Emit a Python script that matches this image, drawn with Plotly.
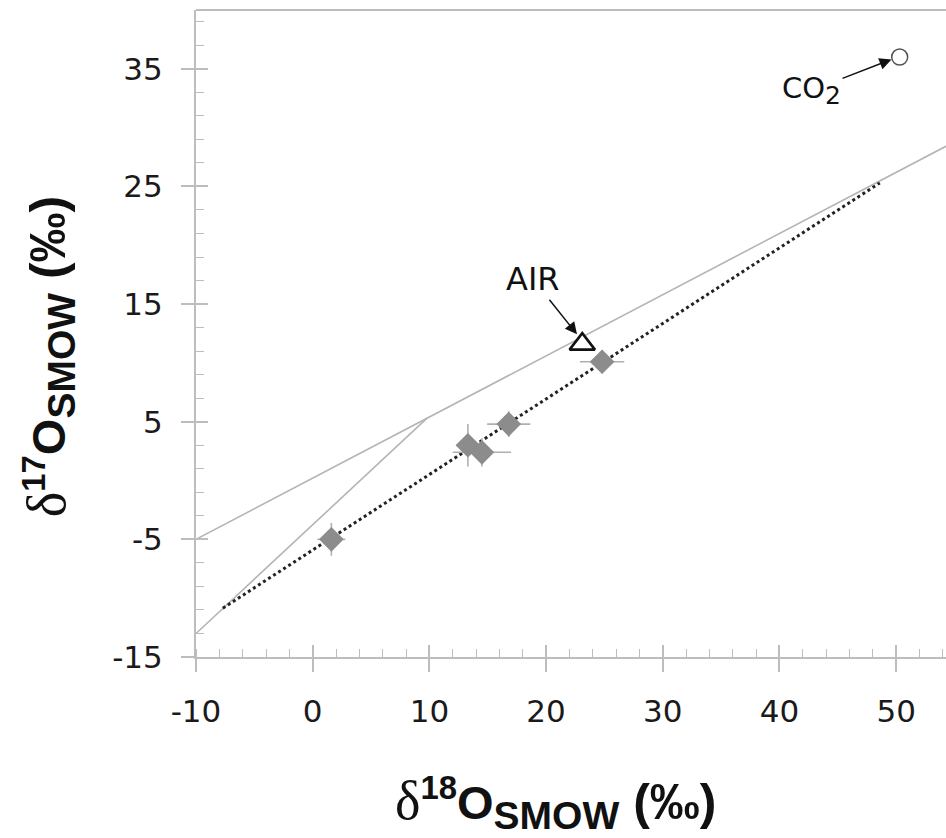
import plotly.graph_objects as go

# ---- data ----
sample_d18O = [1.6, 13.3, 14.5, 16.8, 24.8]
sample_d17O = [-5.0, 3.0, 2.4, 4.8, 10.1]
sample_err_x = [1.2, 1.0, 2.5, 1.85, 1.9]
sample_err_y = [1.4, 1.8, 1.2, 1.1, 1.0]

air_d18O = [23.1]
air_d17O = [11.6]
co2_d18O = [50.3]
co2_d17O = [36.0]

upper_line_x = [-10.0, 60.0]
upper_line_y = [-5.0, 31.4]
mix_line_x = [-10.0, 9.8]
mix_line_y = [-13.0, 5.3]
fit_line_x = [-7.7, 48.6]
fit_line_y = [-10.85, 25.3]

x_tickvals = [-10, 0, 10, 20, 30, 40, 50]
x_ticktext = ["-10", "0", "10", "20", "30", "40", "50"]
y_tickvals = [-15, -5, 5, 15, 25, 35]
y_ticktext = ["-15", "-5", "5", "15", "25", "35"]

x_range = [-10, 54.27]
y_range = [-15, 40]

fig = go.Figure()

LINE_GRAY = "#b4b4b4"
AXIS_GRAY = "#bdbdbd"

fig.add_trace(go.Scatter(x=upper_line_x, y=upper_line_y, mode="lines",
                         line=dict(color=LINE_GRAY, width=1.6), showlegend=False, hoverinfo="skip"))
fig.add_trace(go.Scatter(x=mix_line_x, y=mix_line_y, mode="lines",
                         line=dict(color=LINE_GRAY, width=1.6), showlegend=False, hoverinfo="skip"))
fig.add_trace(go.Scatter(x=fit_line_x, y=fit_line_y, mode="lines",
                         line=dict(color="#222222", width=3, dash="dot"), showlegend=False, hoverinfo="skip"))

fig.add_trace(go.Scatter(
    x=sample_d18O, y=sample_d17O, mode="markers",
    marker=dict(symbol="diamond", size=19, color="#8c8c8c", line=dict(width=0)),
    error_x=dict(type="data", array=sample_err_x, color="#b0b0b0", thickness=1.6, width=0),
    error_y=dict(type="data", array=sample_err_y, color="#b0b0b0", thickness=1.6, width=0),
    showlegend=False))

fig.add_trace(go.Scatter(x=air_d18O, y=air_d17O, mode="markers",
                         marker=dict(symbol="triangle-up", size=22, color="white",
                                     line=dict(color="#111111", width=2.6)),
                         showlegend=False))
fig.add_trace(go.Scatter(x=co2_d18O, y=co2_d17O, mode="markers",
                         marker=dict(symbol="circle", size=16, color="white",
                                     line=dict(color="#555555", width=1.5)),
                         showlegend=False))

# overlay axes carrying the inner half of the major ticks
fig.add_trace(go.Scatter(x=[], y=[], xaxis="x2", yaxis="y2", showlegend=False, hoverinfo="skip"))

TICK_FONT = dict(family="DejaVu Sans", size=31, color="#1a1a1a")

fig.update_layout(
    width=946, height=838,
    margin=dict(l=196, r=0, t=10, b=181),
    paper_bgcolor="white", plot_bgcolor="white",
    xaxis=dict(range=x_range, tickmode="array", tickvals=x_tickvals, ticktext=x_ticktext,
               ticks="outside", ticklen=13, tickwidth=1.5,
               tickcolor=AXIS_GRAY, showline=True, linecolor=AXIS_GRAY, linewidth=2,
               showgrid=False, zeroline=False, tickfont=TICK_FONT, ticklabelstandoff=13,
               minor=dict(dtick=2, tick0=-10, ticks="inside", ticklen=8, tickwidth=1.3,
                          tickcolor=AXIS_GRAY, showgrid=False)),
    yaxis=dict(range=y_range, tickmode="array", tickvals=y_tickvals, ticktext=y_ticktext,
               ticks="outside", ticklen=13, tickwidth=1.5,
               tickcolor=AXIS_GRAY, showline=True, linecolor=AXIS_GRAY, linewidth=2,
               showgrid=False, zeroline=False, tickfont=TICK_FONT, ticklabelstandoff=12,
               minor=dict(dtick=2, tick0=-15, ticks="inside", ticklen=8, tickwidth=1.3,
                          tickcolor=AXIS_GRAY, showgrid=False)),
    xaxis2=dict(overlaying="x", matches="x", anchor="y2", side="bottom", range=x_range,
                tickmode="array", tickvals=x_tickvals, ticks="inside", ticklen=12, tickwidth=1.5,
                tickcolor=AXIS_GRAY, showticklabels=False, showline=False,
                showgrid=False, zeroline=False),
    yaxis2=dict(overlaying="y", matches="y", anchor="x2", side="left", range=y_range,
                tickmode="array", tickvals=y_tickvals, ticks="inside", ticklen=12, tickwidth=1.5,
                tickcolor=AXIS_GRAY, showticklabels=False, showline=False,
                showgrid=False, zeroline=False),
    shapes=[dict(type="line", xref="paper", yref="paper", x0=0, x1=1, y0=1, y1=1,
                 line=dict(color=AXIS_GRAY, width=2))],
)

TITLE_FONT = dict(family="Liberation Sans", size=47, color="#111111")


def axis_title(iso):
    return ('<span style="font-family:Liberation Serif;font-size:54px">δ</span>'
            '<b><sup>' + iso + '</sup>O</b>'
            '<sub><b><span style="font-size:39px">SMOW</span></b></sub>'
            '<b><span style="font-size:50px"> (‰)</span></b>')


ann = [
    dict(xref="paper", yref="paper", x=0.479, y=-0.226, text=axis_title("18"), showarrow=False,
         font=TITLE_FONT, xanchor="center", yanchor="middle"),
    dict(xref="paper", yref="paper", x=-0.195, y=0.4645, text=axis_title("17"),
         showarrow=False, font=TITLE_FONT, textangle=-90, xanchor="center", yanchor="middle"),
    # labels with arrows (arrow tip at (x, y); label centre offset by ax, ay pixels)
    dict(x=22.65, y=12.43, xref="x", yref="y", text="AIR", showarrow=True, ax=-44, ay=-55,
         arrowhead=2, arrowsize=1.6, arrowwidth=1.5, arrowcolor="#111111", standoff=0,
         font=dict(family="DejaVu Sans", size=32, color="#111111")),
    dict(x=49.6, y=35.8, xref="x", yref="y",
         text='CO<sub><span style="font-size:25px">2</span></sub>', showarrow=True, ax=-80, ay=31,
         arrowhead=2, arrowsize=1.6, arrowwidth=1.5, arrowcolor="#111111", standoff=0,
         font=dict(family="DejaVu Sans", size=29, color="#111111")),
]
fig.update_layout(annotations=ann)

fig.write_html("out.html", config={"displayModeBar": False},
               post_script="document.body.style.margin='0';document.body.style.overflow='hidden';")
